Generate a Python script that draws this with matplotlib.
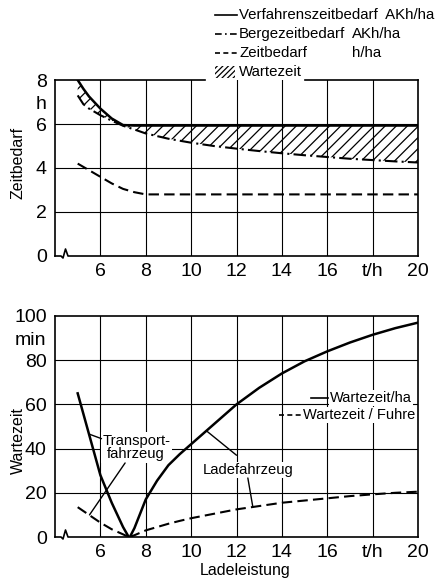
import matplotlib
matplotlib.use('Agg')
import matplotlib.pyplot as plt
from matplotlib import font_manager
from matplotlib.lines import Line2D
from matplotlib.patches import Rectangle

# ---- data ----
# upper panel: Zeitbedarf over Ladeleistung
x_top = [5, 5.25, 5.5, 6, 6.5, 7, 7.5, 8, 9, 10, 11, 12, 13, 14, 15, 16, 17, 18, 19, 20]
y_verfahren = [8.0, 7.6, 7.25, 6.7, 6.25, 5.95, 5.93, 5.93, 5.93, 5.93, 5.93, 5.93,
               5.93, 5.93, 5.93, 5.93, 5.93, 5.93, 5.93, 5.93]
y_berge = [7.3, 6.9, 6.7, 6.4, 6.15, 5.92, 5.75, 5.57, 5.33, 5.15, 5.0, 4.88,
           4.77, 4.67, 4.58, 4.5, 4.42, 4.36, 4.3, 4.25]
x_zeit = [5, 5.5, 6, 6.5, 7, 7.5, 8, 12, 16, 20]
y_zeit = [4.2, 3.9, 3.6, 3.3, 3.05, 2.9, 2.8, 2.8, 2.8, 2.8]

# lower panel: Wartezeit over Ladeleistung
x_transport = [5, 5.5, 6, 6.5, 7, 7.25]
y_transport_ha = [65, 46.5, 28, 15.5, 4.5, 0]
y_transport_fuhre = [13.5, 10, 6.5, 3.5, 1.2, 0]
x_lade = [7.3, 7.5, 8, 8.5, 9, 9.5, 10, 11, 12, 13, 14, 15, 16, 17, 18, 19, 20]
y_lade_ha = [0, 4, 17, 25.5, 32.5, 37.5, 42, 51, 60, 67.5, 74, 79.5, 84, 88, 91.5, 94.5, 97]
y_lade_fuhre = [0, 0.8, 3, 4.5, 6, 7.3, 8.5, 10.5, 12.5, 14, 15.5, 16.5, 17.5, 18.5,
                19.3, 20, 20.5]

x_ticks = [6, 8, 10, 12, 14, 16, 18, 20]
x_ticklabels = ['6', '8', '10', '12', '14', '16', 't/h', '20']
top_yticks = [0, 2, 4, 6, 7, 8]
top_yticklabels = ['0', '2', '4', '6', 'h', '8']
bot_yticks = [0, 20, 40, 60, 80, 90, 100]
bot_yticklabels = ['0', '20', '40', '60', '80', 'min', '100']

# ---- fonts ----
names = {f.name for f in font_manager.fontManager.ttflist}
if 'Liberation Sans Narrow' in names:
    tick_font, tick_size = 'Liberation Sans Narrow', 16
else:
    tick_font, tick_size = 'Liberation Sans', 14
text_font = 'Liberation Sans'
plt.rcParams['font.family'] = [text_font, 'DejaVu Sans']
plt.rcParams['hatch.linewidth'] = 0.9

W, H = 437, 580
fig = plt.figure(figsize=(W / 100, H / 100), dpi=100)


def fx(px):
    return px / W


def fy(py):
    return 1 - py / H


LEFT, RIGHT = 55, 418
ax1 = fig.add_axes([fx(LEFT), fy(256), fx(RIGHT) - fx(LEFT), fy(80) - fy(256)])
ax2 = fig.add_axes([fx(LEFT), fy(537), fx(RIGHT) - fx(LEFT), fy(316) - fy(537)])


def style_axes(ax, ylim, yticks, ylabels, grid_y, top_gap=None):
    ax.set_xlim(4, 20)
    ax.set_ylim(*ylim)
    ax.set_xticks(x_ticks, x_ticklabels, fontfamily=tick_font, fontsize=tick_size)
    ax.set_yticks(yticks, ylabels, fontfamily=tick_font, fontsize=tick_size)
    ax.tick_params(length=0)
    ax.tick_params(axis='x', pad=5)
    ax.tick_params(axis='y', pad=6)
    for x in x_ticks[:-1]:
        ax.axvline(x, color='k', lw=0.8, zorder=1)
    for y in grid_y:
        ax.axhline(y, color='k', lw=0.8, zorder=1)
    ax.spines['bottom'].set_visible(False)
    for s in ['left', 'right', 'top']:
        ax.spines[s].set_linewidth(1.2)
    # bottom line with the little axis-break zigzag
    w = ax.bbox.width
    h = ax.bbox.height
    bx = [0, 6, 8, 10.5, 13, w]
    by = [0, 0, -2, 7, 0, 0]
    ax.plot([v / w for v in bx], [v / h for v in by], color='k', lw=1.2,
            transform=ax.transAxes, clip_on=False, zorder=4)
    if top_gap is not None:
        ax.spines['top'].set_visible(False)
        g0 = (top_gap[0] - LEFT) / w
        g1 = (top_gap[1] - LEFT) / w
        ax.plot([0, g0], [1, 1], color='k', lw=1.2, transform=ax.transAxes,
                clip_on=False, zorder=4)
        ax.plot([g1, 1], [1, 1], color='k', lw=1.2, transform=ax.transAxes,
                clip_on=False, zorder=4)


style_axes(ax1, (0, 8), top_yticks, top_yticklabels, [2, 4, 6], top_gap=(205, 305))
style_axes(ax2, (0, 100), bot_yticks, bot_yticklabels, [20, 40, 60, 80])

# ---- upper panel ----
ax1.fill_between(x_top, y_berge, y_verfahren, facecolor='none', edgecolor='k',
                 hatch='///', lw=0, zorder=2)
ax1.plot(x_top, y_verfahren, color='k', lw=1.8, zorder=3)
ax1.plot(x_top, y_berge, color='k', lw=1.5, linestyle=(0, (6, 2, 1, 2)), zorder=3)
ax1.plot(x_zeit, y_zeit, color='k', lw=1.5, linestyle=(0, (5, 2.5)), zorder=3)

# legend of the upper panel, laid out as in the original
leg_rows = [15, 34, 53, 72]
lx0, lx1, ltx, lux = 215, 237, 239, 352
fig.add_artist(Line2D([fx(lx0), fx(lx1)], [fy(leg_rows[0])] * 2, color='k', lw=1.2))
fig.add_artist(Line2D([fx(lx0), fx(lx1)], [fy(leg_rows[1])] * 2, color='k', lw=1.2,
                      linestyle=(0, (4, 2, 1, 2))))
fig.add_artist(Line2D([fx(lx0), fx(lx1)], [fy(leg_rows[2])] * 2, color='k', lw=1.2,
                      linestyle=(0, (3, 2))))
fig.add_artist(Rectangle((fx(lx0), fy(leg_rows[3] + 6)), fx(lx1) - fx(lx0) - 0.005,
                         fy(leg_rows[3] - 6) - fy(leg_rows[3] + 6),
                         facecolor='none', edgecolor='k', lw=0, hatch='//////'))
leg_fs = 10.8
fig.text(fx(ltx), fy(leg_rows[0]), 'Verfahrenszeitbedarf  AKh/ha', fontsize=leg_fs, va='center')
fig.text(fx(ltx), fy(leg_rows[1]), 'Bergezeitbedarf', fontsize=leg_fs, va='center')
fig.text(fx(lux), fy(leg_rows[1]), 'AKh/ha', fontsize=leg_fs, va='center')
fig.text(fx(ltx), fy(leg_rows[2]), 'Zeitbedarf', fontsize=leg_fs, va='center')
fig.text(fx(lux), fy(leg_rows[2]), 'h/ha', fontsize=leg_fs, va='center')
fig.text(fx(ltx), fy(leg_rows[3]), 'Wartezeit', fontsize=leg_fs, va='center')

# ---- lower panel ----
ax2.plot(x_transport, y_transport_ha, color='k', lw=1.8, zorder=3)
ax2.plot(x_lade, y_lade_ha, color='k', lw=1.8, zorder=3)
ax2.plot(x_transport, y_transport_fuhre, color='k', lw=1.5, linestyle=(0, (5, 2.5)), zorder=3)
ax2.plot(x_lade, y_lade_fuhre, color='k', lw=1.5, linestyle=(0, (5, 2.5)), zorder=3)

white = dict(facecolor='white', edgecolor='none', pad=1)
ax2.text(6.08, 40.5, 'Transport-\nfahrzeug', fontsize=10.6, ha='left', va='center',
         multialignment='center', linespacing=0.95, bbox=white, zorder=2.5)
ax2.text(10.5, 30.3, 'Ladefahrzeug', fontsize=10.6, ha='left', va='center',
         bbox=white, zorder=2.5)
leader = dict(arrowstyle='-', lw=1.0, color='k', shrinkA=0, shrinkB=0)
ax2.annotate('', xy=(5.52, 46.5), xytext=(6.05, 44.5), arrowprops=leader, zorder=6)
ax2.annotate('', xy=(5.52, 10), xytext=(7.09, 33.5), arrowprops=leader, zorder=6)
ax2.annotate('', xy=(10.68, 48), xytext=(12.0, 37), arrowprops=leader, zorder=6)
ax2.annotate('', xy=(12.72, 13.6), xytext=(12.5, 26.7), arrowprops=leader, zorder=6)

# lower legend
ax2.text(0.683, 0.552, 'Wartezeit / Fuhre', transform=ax2.transAxes, fontsize=10.5,
         va='center', ha='left', bbox=white, zorder=5)
ax2.text(0.758, 0.629, 'Wartezeit/ha', transform=ax2.transAxes, fontsize=10.5,
         va='center', ha='left', bbox=white, zorder=5)
ax2.plot([0.617, 0.677], [0.552, 0.552], transform=ax2.transAxes, color='k', lw=1.2,
         linestyle=(0, (3, 2)), zorder=6)
ax2.plot([0.705, 0.752], [0.629, 0.629], transform=ax2.transAxes, color='k', lw=1.2,
         zorder=6)

# axis titles
fig.text(fx(18), fy(163), 'Zeitbedarf', rotation=90, fontsize=11.5, ha='center', va='center')
fig.text(fx(18), fy(440), 'Wartezeit', rotation=90, fontsize=11.5, ha='center', va='center')
fig.text(fx(245), fy(570), 'Ladeleistung', fontsize=11.5, ha='center', va='center')

fig.savefig('out.png', dpi=100, facecolor='white')
